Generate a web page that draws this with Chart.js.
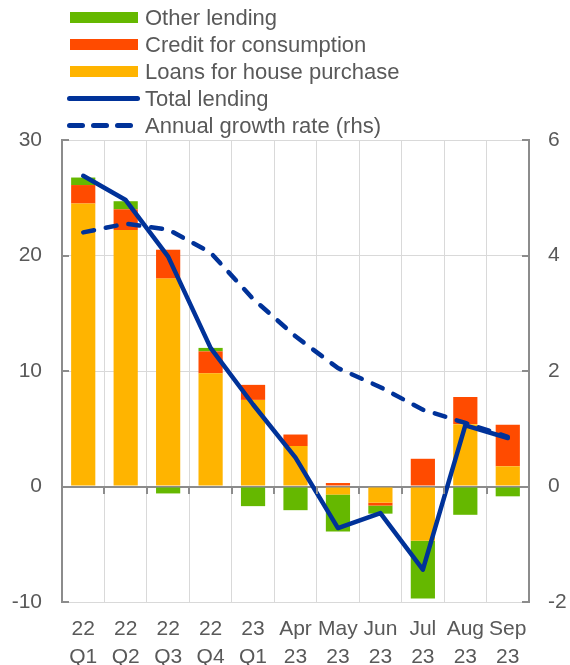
<!DOCTYPE html>
<html>
<head>
<meta charset="utf-8">
<script src="https://cdn.jsdelivr.net/npm/chart.js@4"></script>
<style>
  html, body { margin: 0; padding: 0; background: #fff; }
  #wrap { position: relative; width: 570px; height: 665px; }
  #legend { position: absolute; left: 0; top: 0; font-family: 'Liberation Sans', Arial, sans-serif; font-size: 22px; color: #595959; }
  .row { position: absolute; left: 0; height: 27px; white-space: nowrap; }
  .row span { position: absolute; left: 145px; line-height: 27px; top: 0; }
  .sw { position: absolute; }
</style>
</head>
<body>
<div id="wrap">
  <canvas id="chart" width="570" height="665"></canvas>
  <div id="legend"></div>
</div>
<script>
// categories
const labels = [['22','Q1'],['22','Q2'],['22','Q3'],['22','Q4'],['23','Q1'],['Apr','23'],['May','23'],['Jun','23'],['Jul','23'],['Aug','23'],['Sep','23']];

// contributions (lhs)
const housePurchase = [24.5, 22.2, 18.0, 9.8, 7.5, 3.5, -0.7, -1.4, -4.7, 5.4, 1.75];
const consumption   = [1.6, 1.8, 2.5, 1.9, 1.3, 1.0, 0.3, -0.25, 2.4, 2.35, 3.6];
const otherLending  = [0.65, 0.7, -0.6, 0.3, -1.7, -2.05, -3.2, -0.7, -5.0, -2.45, -0.85];
const totalLending  = [26.9, 24.8, 19.9, 12.0, 7.1, 2.5, -3.6, -2.3, -7.2, 5.3, 4.2];

// annual growth rate (rhs)
const growthRate = [4.4, 4.55, 4.45, 4.05, 3.25, 2.6, 2.05, 1.72, 1.33, 1.1, 0.86];

const leftTicks = [-10, 0, 10, 20, 30];
const rightTicks = [-2, 0, 2, 4, 6];

const GREEN = '#65b800', RED = '#ff4b00', YELLOW = '#ffb400', BLUE = '#003299';
const TEXT = '#595959', AXIS = '#8c8c8c', GRID = '#d9d9d9';
const FONT = "'Liberation Sans', Arial, sans-serif";

// html legend
const legendItems = [
  {label: 'Other lending', type: 'box', colour: GREEN},
  {label: 'Credit for consumption', type: 'box', colour: RED},
  {label: 'Loans for house purchase', type: 'box', colour: YELLOW},
  {label: 'Total lending', type: 'line', colour: BLUE},
  {label: 'Annual growth rate (rhs)', type: 'dash', colour: BLUE}
];
const legendEl = document.getElementById('legend');
legendItems.forEach((item, i) => {
  const row = document.createElement('div');
  row.className = 'row';
  row.style.top = (4 + i * 27) + 'px';
  if (item.type === 'box') {
    const sw = document.createElement('div');
    sw.className = 'sw';
    sw.style.cssText = 'left:70px;top:8px;width:68px;height:11px;background:' + item.colour;
    row.appendChild(sw);
  } else if (item.type === 'line') {
    const sw = document.createElement('div');
    sw.className = 'sw';
    sw.style.cssText = 'left:67px;top:11px;width:73px;height:5px;border-radius:3px;background:' + item.colour;
    row.appendChild(sw);
  } else {
    for (let k = 0; k < 3; k++) {
      const sw = document.createElement('div');
      sw.className = 'sw';
      sw.style.cssText = 'left:' + (67 + k * 24) + 'px;top:11px;width:18px;height:5px;border-radius:3px;background:' + item.colour;
      row.appendChild(sw);
    }
  }
  const txt = document.createElement('span');
  txt.textContent = item.label;
  row.appendChild(txt);
  legendEl.appendChild(row);
});

// inner tick marks and zero-line ticks
const axisMarks = {
  id: 'axisMarks',
  afterDatasetsDraw(chart) {
    const {ctx, chartArea, scales} = chart;
    ctx.save();
    ctx.strokeStyle = AXIS;
    ctx.lineWidth = 2;
    ctx.beginPath();
    leftTicks.forEach(v => {
      const y = Math.round(scales.y.getPixelForValue(v));
      ctx.moveTo(chartArea.left, y); ctx.lineTo(chartArea.left + 7, y);
    });
    rightTicks.forEach(v => {
      const y = Math.round(scales.y1.getPixelForValue(v));
      ctx.moveTo(chartArea.right, y); ctx.lineTo(chartArea.right - 7, y);
    });
    const y0 = Math.round(scales.y.getPixelForValue(0));
    const w = (chartArea.right - chartArea.left) / labels.length;
    for (let i = 0; i <= labels.length; i++) {
      const x = Math.round(chartArea.left + i * w);
      ctx.moveTo(x, y0); ctx.lineTo(x, y0 + 7);
    }
    ctx.stroke();
    ctx.restore();
  }
};

Chart.defaults.font.family = FONT;
Chart.defaults.color = TEXT;

new Chart(document.getElementById('chart'), {
  type: 'bar',
  data: {
    labels: labels,
    datasets: [
      {type: 'line', label: 'Total lending', data: totalLending, yAxisID: 'y', stack: 'total',
       borderColor: BLUE, borderWidth: 4.5, pointRadius: 0, tension: 0, fill: false,
       borderCapStyle: 'round', borderJoinStyle: 'round', order: 0},
      {type: 'line', label: 'Annual growth rate (rhs)', data: growthRate, yAxisID: 'y1',
       borderColor: BLUE, borderWidth: 4.5, borderDash: [11, 12], pointRadius: 0, tension: 0, fill: false,
       borderCapStyle: 'round', order: 0},
      {label: 'Loans for house purchase', data: housePurchase, backgroundColor: YELLOW, stack: 'bars', yAxisID: 'y', order: 1},
      {label: 'Credit for consumption', data: consumption, backgroundColor: RED, stack: 'bars', yAxisID: 'y', order: 1},
      {label: 'Other lending', data: otherLending, backgroundColor: GREEN, stack: 'bars', yAxisID: 'y', order: 1}
    ]
  },
  options: {
    responsive: false,
    animation: false,
    layout: {padding: {top: 140, left: 0, right: 0, bottom: 0}},
    barPercentage: 0.57,
    categoryPercentage: 1,
    plugins: {legend: {display: false}, tooltip: {enabled: false}},
    scales: {
      x: {
        stacked: true,
        grid: {color: GRID, offset: true, drawTicks: false, lineWidth: 1},
        border: {display: false},
        ticks: {font: {size: 21, lineHeight: 1.3}, padding: 14, maxRotation: 0, autoSkip: false},
        afterFit(scale) { scale.height = 63; }
      },
      y: {
        stacked: true,
        position: 'left',
        min: -10, max: 30,
        grid: {
          color: ctx => ctx.tick && ctx.tick.value === 0 ? AXIS : GRID,
          lineWidth: ctx => ctx.tick && ctx.tick.value === 0 ? 2 : 1,
          drawTicks: false
        },
        border: {display: true, color: AXIS, width: 2},
        ticks: {stepSize: 10, font: {size: 21}, padding: 20},
        afterFit(scale) { scale.width = 62; }
      },
      y1: {
        position: 'right',
        min: -2, max: 6,
        grid: {display: false, drawTicks: false},
        border: {display: true, color: AXIS, width: 2},
        ticks: {stepSize: 2, font: {size: 21}, padding: 19},
        afterFit(scale) { scale.width = 41; }
      }
    }
  },
  plugins: [axisMarks]
});
</script>
</body>
</html>
